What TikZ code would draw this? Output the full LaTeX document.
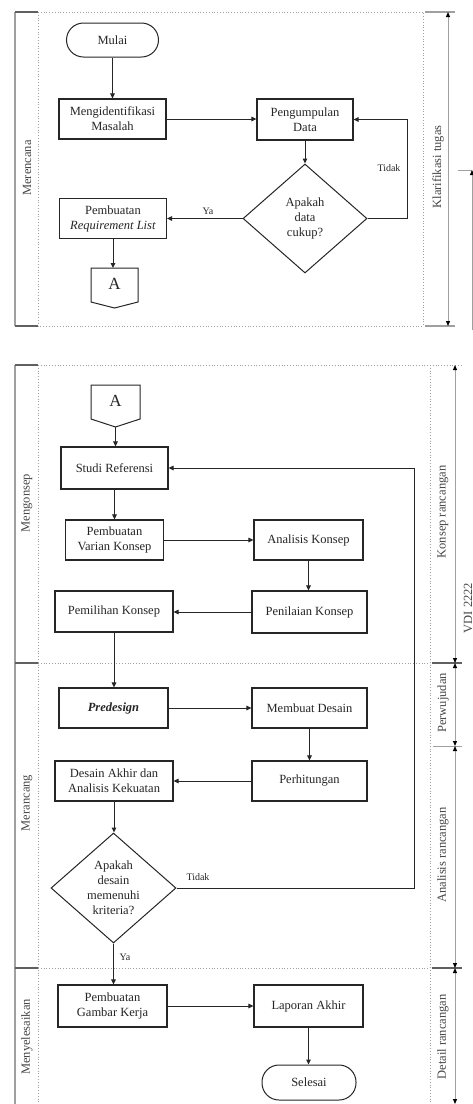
\documentclass[tikz,border=0pt]{standalone}
\usepackage{fontspec}
\setmainfont{Liberation Serif}
\usetikzlibrary{shapes.geometric,arrows.meta}
\definecolor{ink}{HTML}{262626}
\definecolor{framec}{HTML}{A0A0A0}
\definecolor{tickc}{HTML}{606060}
\begin{document}
\begin{tikzpicture}[x=1pt,y=-1pt,
  font=\fontsize{12.5}{15}\selectfont, text=ink,
  box/.style={draw=ink, line width=1.1pt, rectangle, align=center, inner sep=2pt, minimum height=41pt},
  term/.style={draw=ink, line width=1pt, rectangle, rounded corners=17pt, minimum height=34pt},
  dec/.style={draw=ink, line width=1pt, diamond, inner sep=0pt},
  arr/.style={draw=ink, line width=1pt, -{Triangle[length=5pt,width=4.5pt]}},
  lab/.style={font=\fontsize{10}{12}\selectfont},
  conn/.style={font=\fontsize{17}{20}\selectfont},
  side/.style={rotate=90, text=ink!85},
  dots/.style={draw=framec, dotted, line width=0.8pt},
  sideedge/.style={draw=framec, line width=2pt},
  tickl/.style={draw=tickc, line width=1.5pt},
  dim/.style={draw=framec, line width=1pt, {Triangle[length=5pt,width=4pt,color=black]}-{Triangle[length=5pt,width=4pt,color=black]}},
]
\useasboundingbox (0,0) rectangle (473,1104);
\fill[white] (0,0) rectangle (473,1104);

% ---------- frame, section 1 ----------
\draw[sideedge] (15,12) -- (15,326);
\draw[tickl] (15,12) -- (38,12);
\draw[tickl] (15,326) -- (38,326);
\draw[dots] (38,12) rectangle (423,326);
\draw[draw=framec, line width=1.5pt] (425,12) -- (455,12);
\draw[draw=framec, line width=1.5pt] (425,326) -- (455,326);
\draw[dim] (448,12) -- (448,326);
\draw[draw=framec, line width=0.8pt] (458,170) -- (472,170);
\draw[draw=framec, line width=0.8pt, -{Triangle[length=5pt,width=4pt,color=black]}] (472,330) -- (472,170);

\node[side] (lmerencana) at (27,168) {Merencana};
\node[side] (lklarifikasi) at (438,167) {Klarifikasi tugas};

% ---------- frame, section 2 ----------
\draw[sideedge] (15,365) -- (15,1104);
\draw[tickl] (15,365) -- (38,365);
\draw[tickl] (15,663) -- (38,663);
\draw[tickl] (15,968) -- (38,968);
\draw[dots] (38,365) -- (38,1104);
\draw[dots] (430,365) -- (430,1104);
\draw[dots] (38,365) -- (462,365);
\draw[dots] (38,663) -- (430,663);
\draw[dots] (38,968) -- (430,968);
\draw[tickl] (432,663) -- (462,663);
\draw[draw=framec, line width=1pt] (433,746) -- (462,746);
\draw[tickl] (432,968) -- (462,968);
\draw[dim] (455,365) -- (455,663);
\draw[dim] (455,663) -- (455,746);
\draw[dim] (455,746) -- (455,968);
\draw[dim] (455,968) -- (455,1104);

\node[side] (lmengonsep) at (27,503) {Mengonsep};
\node[side] (lmerancang) at (27,803) {Merancang};
\node[side] (lmenyelesaikan) at (27,1037) {Menyelesaikan};
\node[side] (lkonsep) at (443,512) {Konsep rancangan};
\node[side] (lperwujudan) at (443,703) {Perwujudan};
\node[side] (lanalisis) at (443,855) {Analisis rancangan};
\node[side] (ldetail) at (443,1037) {Detail rancangan};
\node[side, anchor=base, inner sep=0pt] (lvdi) at (472,608) {VDI 2222};

% ---------- section 1 nodes ----------
\node[term, minimum width=92pt] (mulai) at (112.5,40) {Mulai};
\node[box, minimum width=107pt, minimum height=40pt] (ident) at (112.5,119) {Mengidentifikasi\\Masalah};
\node[box, minimum width=96pt] (kumpul) at (305,119.5) {Pengumpulan\\Data};
\node[dec, minimum width=124pt, minimum height=109pt] (cek1) at (305,218.5) {};
\node[align=center, inner sep=0pt] (cek1t) at (cek1.center) {Apakah\\data\\cukup?};
\node[box, minimum width=107pt, minimum height=40pt] (req) at (113,218.5) {Pembuatan\\\textit{Requirement List}};
\node[conn] (a1) at (114.5,284) {A};
\coordinate (a1top) at (114.5,268);
\draw[draw=ink, line width=1pt] (91,268) -- (138,268) -- (138,302) -- (114.5,308) -- (91,302) -- cycle;

\draw[arr] (mulai.south) -- (ident.north);
\draw[arr] (ident.east) -- (kumpul.west |- ident.east);
\draw[arr] (kumpul.south) -- (cek1.north);
\draw[arr] (cek1.east) -- ++(40,0) |- (kumpul.east);
\node[lab] (ltidak1) at (389,168) {Tidak};
\draw[arr] (cek1.west) -- (req.east);
\node[lab] (lya1) at (208,211) {Ya};
\draw[arr] (req.south) -- (req.south |- a1top);

% ---------- section 2 nodes ----------
\node[conn] (a2) at (115.5,401) {A};
\coordinate (a2tip) at (115.5,427);
\draw[draw=ink, line width=1pt] (91,385) -- (140,385) -- (140,419) -- (115.5,427) -- (91,419) -- cycle;

\node[box, minimum width=107pt, minimum height=42pt] (studi) at (114.5,468) {Studi Referensi};
\node[box, minimum width=98pt, minimum height=40pt] (varian) at (114.5,540) {Pembuatan\\Varian Konsep};
\node[box, minimum width=109pt, minimum height=40pt] (analisis) at (308.5,540) {Analisis Konsep};
\node[box, minimum width=118pt, minimum height=41pt] (pemilihan) at (114,611.5) {Pemilihan Konsep};
\node[box, minimum width=115pt, minimum height=42pt] (penilaian) at (309.5,612) {Penilaian Konsep};
\node[box, minimum width=109pt, minimum height=40pt] (predesign) at (113.5,708) {\textbf{\textit{Predesign}}};
\node[box, minimum width=115pt, minimum height=40pt] (membuat) at (309.5,708) {Membuat Desain};
\node[box, minimum width=118pt, minimum height=40pt] (desain) at (114,781) {Desain Akhir dan\\Analisis Kekuatan};
\node[box, minimum width=115pt, minimum height=40pt] (hitung) at (309.5,781) {Perhitungan};
\node[dec, minimum width=125pt, minimum height=110pt] (cek2) at (113.5,888) {};
\node[align=center, inner sep=0pt] (cek2t) at (cek2.center) {Apakah\\desain\\memenuhi\\kriteria?};
\node[box, minimum width=109pt, minimum height=42pt] (gambar) at (112.5,1006) {Pembuatan\\Gambar Kerja};
\node[box, minimum width=109pt, minimum height=42pt] (laporan) at (308.5,1006) {Laporan Akhir};
\node[term, minimum width=94pt, minimum height=35pt] (selesai) at (309,1082.5) {Selesai};

\draw[arr] (a2tip) -- (a2tip |- studi.north);
\draw[arr] (studi.south) -- (studi.south |- varian.north);
\draw[arr] (varian.east) -- (analisis.west);
\draw[arr] (analisis.south) -- (analisis.south |- penilaian.north);
\draw[arr] (penilaian.west) -- (pemilihan.east |- penilaian.west);
\draw[arr] (pemilihan.south) -- (pemilihan.south |- predesign.north);
\draw[arr] (predesign.east) -- (membuat.west);
\draw[arr] (membuat.south) -- (hitung.north);
\draw[arr] (hitung.west) -- (desain.east);
\draw[arr] (desain.south) -- (desain.south |- cek2.north);
\draw[arr] (cek2.east) -- ++(237.5,0) |- (studi.east);
\node[lab] (ltidak2) at (198,877) {Tidak};
\draw[arr] (cek2.south) -- (cek2.south |- gambar.north);
\node[lab, anchor=west] (lya2) at (116,957) {Ya};
\draw[arr] (gambar.east) -- (laporan.west);
\draw[arr] (laporan.south) -- (laporan.south |- selesai.north);
\end{tikzpicture}
\end{document}
